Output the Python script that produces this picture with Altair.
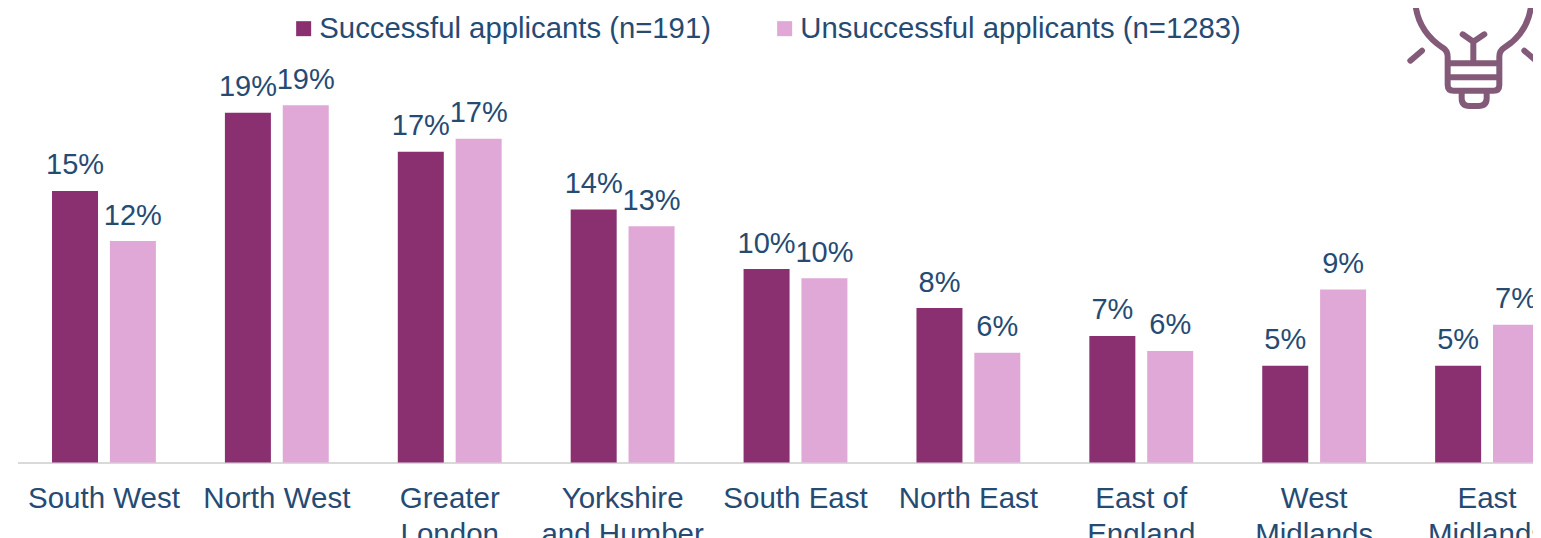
import altair as alt
import pandas as pd

regions = ["South West", "North West", "Greater\nLondon", "Yorkshire\nand Humber", "South East",
           "North East", "East of\nEngland", "West\nMidlands", "East\nMidlands"]
successful = [14.6, 18.8, 16.7, 13.6, 10.4, 8.3, 6.8, 5.2, 5.2]
unsuccessful = [11.9, 19.2, 17.4, 12.7, 9.9, 5.9, 6.0, 9.3, 7.4]
series_names = ["Successful applicants (n=191)", "Unsuccessful applicants (n=1283)"]
series_colors = ["#8A2F70", "#E0A8D6"]
TEXT = "#264B73"
FONT = "Liberation Sans"

rows = []
for r, s, u in zip(regions, successful, unsuccessful):
    rows.append({"region": r, "series": series_names[0], "value": s})
    rows.append({"region": r, "series": series_names[1], "value": u})
df = pd.DataFrame(rows)

x = alt.X("region:N", sort=regions, title=None,
          scale=alt.Scale(range=[0, 1556], paddingInner=0.4, paddingOuter=0.2),
          axis=alt.Axis(labelExpr="split(datum.label, '\\n')", labelAngle=0, ticks=False,
                        labelFont=FONT, labelFontSize=29.5, labelColor=TEXT, labelPadding=22,
                        labelLineHeight=36, labelLimit=0, labelOverlap=False, labelBound=False,
                        domainColor="#D9D9D9", domainWidth=2, grid=False))
y = alt.Y("value:Q", title=None, axis=None, scale=alt.Scale(domain=[0, 24], nice=False))
xoff = alt.XOffset("series:N", sort=series_names,
                   scale=alt.Scale(paddingInner=0.207, paddingOuter=0))

bars = alt.Chart(df).mark_bar(size=46).encode(
    x=x, y=y, xOffset=xoff,
    color=alt.Color("series:N", sort=series_names,
                    scale=alt.Scale(domain=series_names, range=series_colors),
                    legend=alt.Legend(title=None, orient="none", direction="horizontal", columns=2,
                                      legendX=271.5, legendY=-2, symbolType="square", symbolSize=225,
                                      symbolStrokeWidth=0, labelFont=FONT, labelFontSize=29.3,
                                      labelColor=TEXT, labelOffset=1, columnPadding=59, padding=0,
                                      labelLimit=0)))

labels = alt.Chart(df).transform_calculate(
    lab="format(datum.value, '.0f') + '%'"
).mark_text(font=FONT, fontSize=29, color=TEXT, baseline="alphabetic", dy=-16.5).encode(
    x=x, y=y, xOffset=xoff, text="lab:N")

z = 1 / 3
def P(s):
    out = []
    for tok in s.split():
        try:
            out.append(f"{float(tok) * z:.2f}")
        except ValueError:
            out.append(tok)
    return " ".join(out)

icon_path = P("M 222 0 C 226 70 262 115 305 143 Q 320 152 320 170 L 320 255 Q 320 272 338 272 "
              "L 458 272 Q 475 272 475 255 L 475 170 Q 475 152 490 143 C 535 115 568 70 572 0 "
              "M 320 190 L 475 190 M 320 232 L 475 232 "
              "M 362 272 L 362 295 Q 362 318 385 318 L 412 318 Q 437 318 437 295 L 437 272 "
              "M 397 190 L 397 125 M 365 103 L 397 125 L 430 103 "
              "M 208 182 L 243 152 M 550 152 L 585 182")
icon = alt.Chart(pd.DataFrame({"k": [0]})).mark_point(
    shape=icon_path, size=4, filled=False, stroke="#835A78", strokeWidth=6,
    opacity=1, strokeCap="round", strokeJoin="round"
).encode(x=alt.value(1323.5), y=alt.value(-16))

chart = alt.layer(bars, labels, icon).properties(
    width=1515.5, height=446.5,
    padding={"left": 9.5, "top": 8, "right": 0, "bottom": 75.5},
    autosize=alt.AutoSizeParams(type="none"),
).configure_view(stroke=None)

chart.save("out.html", embed_options={"renderer": "svg", "actions": False})
